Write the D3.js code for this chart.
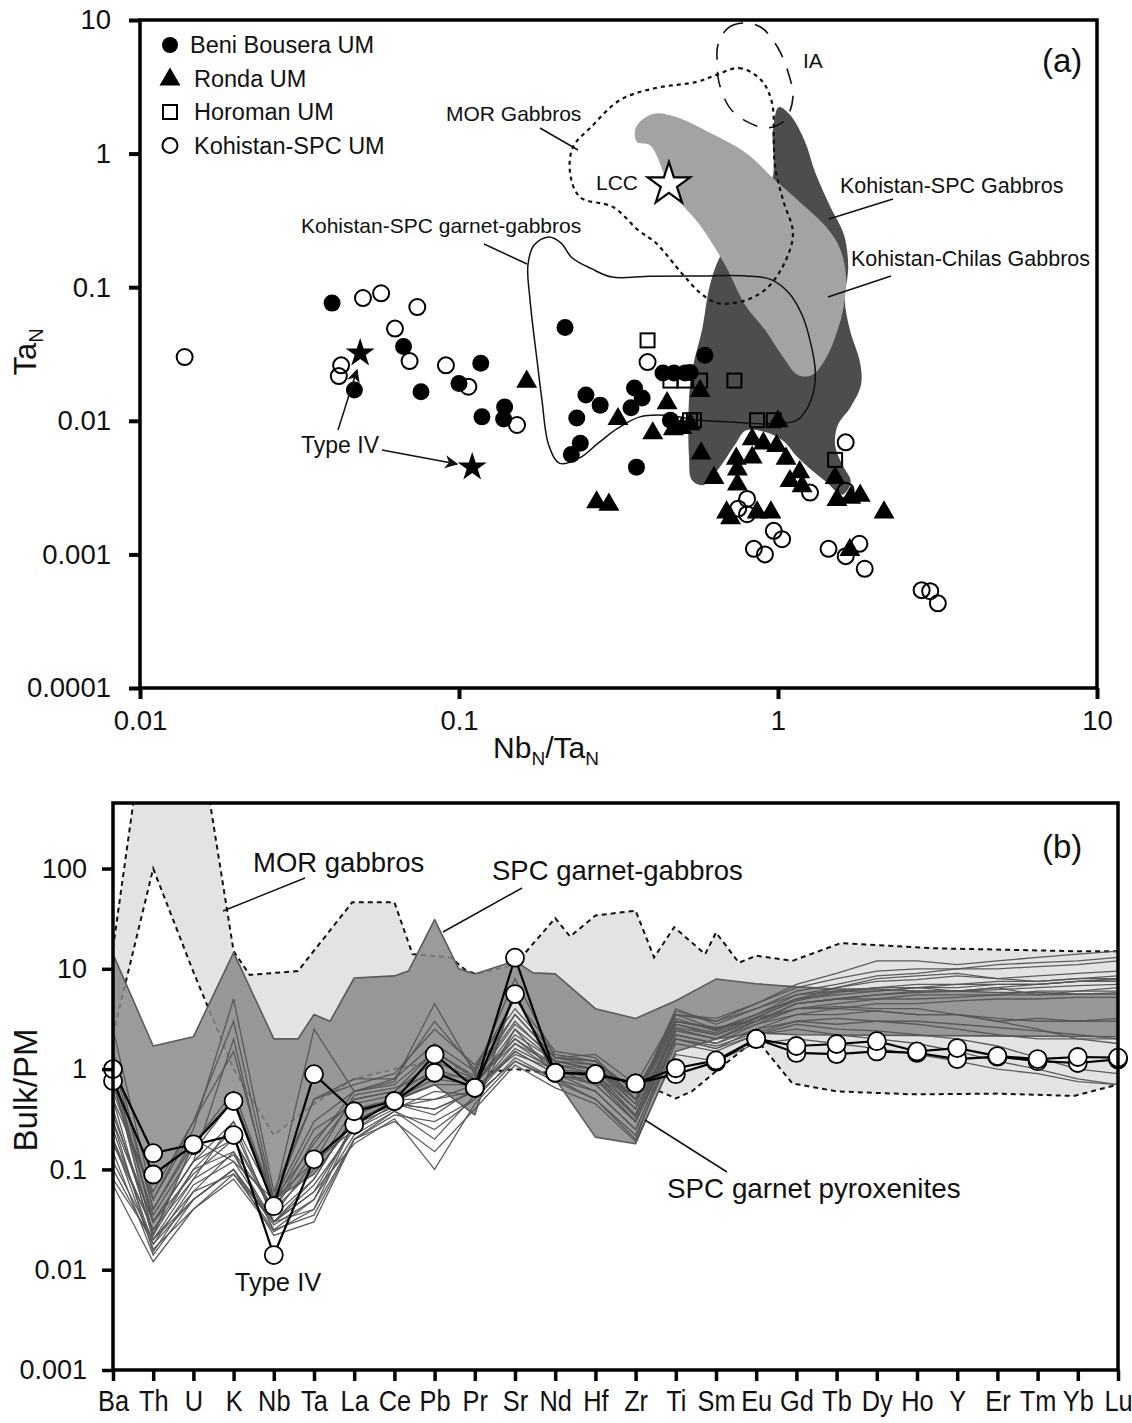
<!DOCTYPE html>
<html>
<head>
<meta charset="utf-8">
<script src="https://cdnjs.cloudflare.com/ajax/libs/d3/7.8.5/d3.min.js"></script>
<style>
body{margin:0;background:#fff;}
svg{display:block;font-family:"Liberation Sans",Arial,sans-serif;}
</style>
</head>
<body>
<div id="chart"></div>
<script>
// ---------- panel (a) data : [NbN/TaN, TaN] ----------
var beniBousera = [[0.040,0.076],[0.047,0.017],[0.067,0.036],[0.076,0.0165],[0.10,0.019],[0.117,0.027],
  [0.118,0.0107],[0.139,0.0127],[0.138,0.0103],[0.215,0.050],[0.25,0.0156],[0.277,0.0131],[0.355,0.0176],
  [0.375,0.0148],[0.346,0.0125],[0.234,0.0105],[0.24,0.0068],[0.225,0.0056],[0.36,0.0045],[0.46,0.0101],
  [0.59,0.031],[0.436,0.0228],[0.472,0.0228],[0.511,0.0228],[0.53,0.023]];
var ronda = [[0.163,0.020],[0.315,0.0105],[0.449,0.0138],[0.57,0.017],[0.405,0.0082],[0.47,0.0088],[0.50,0.009],
  [0.53,0.0096],[0.574,0.0058],[0.63,0.0038],[0.74,0.0053],[0.746,0.0044],[0.746,0.0034],[0.83,0.0074],
  [0.83,0.0054],[0.90,0.0069],[1.0,0.0101],[0.99,0.0066],[1.06,0.0053],[1.09,0.0036],[1.17,0.0042],
  [1.19,0.0033],[1.51,0.0038],[1.53,0.0026],[1.69,0.0027],[1.81,0.0028],[2.15,0.0021],[0.27,0.0025],
  [0.295,0.0024],[0.69,0.0021],[0.71,0.0019],[0.86,0.0021],[0.95,0.0021],[1.68,0.0011]];
var horoman = [[0.39,0.040],[0.46,0.020],[0.51,0.020],[0.57,0.020],[0.73,0.020],[0.53,0.0101],[0.545,0.0101],
  [0.86,0.0101],[0.97,0.0101],[1.51,0.0051]];
var kohistanUM = [[0.0138,0.030],[0.0427,0.026],[0.042,0.0216],[0.050,0.083],[0.057,0.090],[0.074,0.071],
  [0.063,0.049],[0.070,0.028],[0.091,0.026],[0.107,0.018],[0.152,0.0093],[0.39,0.0275],[1.63,0.0069],
  [1.26,0.0029],[0.80,0.0026],[0.75,0.0022],[0.80,0.0020],[1.63,0.0030],[0.97,0.0015],[1.03,0.0013],
  [0.84,0.0011],[0.91,0.0010],[1.44,0.0011],[1.63,0.00097],[1.80,0.0012],[1.87,0.00078],[2.82,0.00054],
  [3.0,0.00053],[3.17,0.00043]];
var typeIVa = [[0.049,0.032],[0.11,0.0045]];
var lcc = [[0.455,0.61]];

// fields in panel (a)
var spcGabbroField = [[1.007,2.23],[1.09,1.95],[1.21,1.26],[1.31,0.716],[1.46,0.398],[1.61,0.246],[1.66,0.142],
  [1.62,0.080],[1.68,0.048],[1.81,0.027],[1.82,0.0185],[1.69,0.0127],[1.54,0.0093],[1.51,0.0066],[1.59,0.0047],
  [1.69,0.0035],[1.59,0.0028],[1.415,0.0035],[1.27,0.0043],[1.147,0.0054],[1.037,0.0071],[0.917,0.0082],
  [0.794,0.0085],[0.738,0.0068],[0.648,0.0043],[0.582,0.0033],[0.537,0.0036],[0.526,0.0054],[0.526,0.0143],
  [0.541,0.0253],[0.578,0.048],[0.612,0.104],[0.667,0.18],[0.817,0.347],[0.958,0.634],[0.964,1.5]];
var chilasField = [[0.359,1.58],[0.4055,1.98],[0.479,1.88],[0.612,1.43],[0.794,1.01],[0.979,0.634],[1.17,0.435],
  [1.415,0.283],[1.56,0.197],[1.63,0.128],[1.61,0.074],[1.52,0.044],[1.415,0.0295],[1.28,0.022],[1.155,0.022],
  [1.037,0.030],[0.91,0.048],[0.788,0.074],[0.682,0.147],[0.569,0.292],[0.466,0.516],[0.397,1.156],[0.361,1.22]];
var morField = [[0.640,3.87],[0.755,4.37],[0.885,3.56],[0.958,2.39],[0.97,1.3],[0.979,0.794],[1.037,0.45],
  [1.114,0.255],[1.059,0.16],[0.93,0.100],[0.794,0.080],[0.648,0.076],[0.569,0.091],[0.498,0.128],[0.4145,0.214],
  [0.364,0.268],[0.304,0.398],[0.2395,0.473],[0.223,0.716],[0.2277,1.12],[0.2594,1.58],[0.32,2.52],[0.4145,3.1],
  [0.553,3.43]];
var iaField = [[0.648,6.5],[0.697,8.71],[0.788,9.5],[0.891,8.71],[1.0,6.17],[1.075,4.08],[1.114,2.66],[1.052,1.785],
  [0.924,1.555],[0.805,1.72],[0.707,2.19],[0.653,3.43],[0.644,5.0]];
var garnetGabbroField = [[0.172,0.207],[0.191,0.238],[0.209,0.214],[0.226,0.166],[0.261,0.137],[0.302,0.119],
  [0.397,0.121],[0.569,0.1215],[0.794,0.1215],[0.944,0.115],[1.075,0.092],[1.19,0.062],[1.26,0.040],[1.31,0.0228],
  [1.27,0.0143],[1.147,0.0101],[0.944,0.0095],[0.707,0.0098],[0.569,0.0101],[0.4425,0.011],[0.369,0.0107],
  [0.315,0.0088],[0.273,0.0068],[0.2395,0.0053],[0.207,0.0048],[0.191,0.0066],[0.182,0.0143],[0.1756,0.0285],
  [0.167,0.080],[0.1645,0.147]];

var xTicksA = [0.01, 0.1, 1, 10];
var yTicksA = [10, 1, 0.1, 0.01, 0.001, 0.0001];
var legendA = ["Beni Bousera UM", "Ronda UM", "Horoman UM", "Kohistan-SPC UM"];

// ---------- panel (b) data ----------
var elements = ["Ba","Th","U","K","Nb","Ta","La","Ce","Pb","Pr","Sr","Nd","Hf","Zr","Ti","Sm","Eu","Gd","Tb","Dy","Ho","Y","Er","Tm","Yb","Lu"];
var yTicksB = [100, 10, 1, 0.1, 0.01, 0.001];
// envelopes: [element position, Bulk/PM]
var morUpper = [[0,16],[1,12000],[2,5000],[3,15],[3.4,8.7],[4.6,9.5],[5.95,46],[7,46],[7.45,14],[8.4,13],[8.8,9.5],
  [9.05,8.9],[10,11],[11,32],[11.37,21],[12,34],[13,38],[13.46,13],[13.96,26],[14.73,14],[15,23],[15.57,11.5],
  [16,13.5],[16.9,12],[18.1,18],[20.5,16],[23.9,15],[25,15]];
var morLower = [[0,2.2],[1,100],[2,9.3],[3,1.0],[4,0.22],[5,0.45],[6,0.8],[7,1.0],[8,1.2],[9,0.9],[10,1.0],[11,0.9],
  [12,0.7],[13,0.65],[13.6,0.6],[14,0.51],[14.4,0.6],[15,0.95],[16,2.0],[16.9,0.72],[18,0.6],[19.9,0.56],[22,0.57],
  [23.9,0.54],[25,0.7]];
var gabbroUpper = [[0,14],[1,1.7],[2,2.1],[3,14.5],[4,2.0],[4.6,2.0],[5,3.5],[5.4,3.0],[6,8.1],[7,8.5],[7.35,9.5],
  [8,31],[8.6,10],[9,8.9],[10,12],[10.45,9.1],[11,8.9],[12,4.0],[13,3.2],[14,4.8],[15,7.9],[16,7.1],[17,6.6],
  [18,6.3],[19,6.3],[20,6.0],[21,6.0],[22,5.8],[23,5.8],[24,5.6],[25,5.6]];
var gabbroLower = [[0,0.8],[1,0.022],[2,0.18],[3,0.5],[4,0.05],[5,0.09],[6,0.3],[7,0.48],[8,0.7],[9,0.35],[10,6],
  [11,0.8],[12,0.21],[13,0.18],[14,1.5],[15,2.0],[16,2.3],[17,2.2],[25,2.1]];

// SPC garnet pyroxenites (one array per sample, Ba..Lu)
var pyroxenites = [
  [0.9,0.03,0.12,2.0,0.04,0.15,0.5,0.6,1.5,0.8,3.5,1.3,1.2,0.6,3.0,2.5,3.5,5.5,6.5,7.5,7.8,8.5,8.0,8.5,9.0,9.5],
  [0.5,0.02,0.08,0.3,0.03,0.08,0.35,0.5,0.8,0.7,2.0,1.0,0.9,0.4,2.5,2.0,3.0,4.5,5.0,5.5,5.8,6.0,6.2,6.5,6.8,7.0],
  [0.3,0.015,0.06,0.15,0.025,0.05,0.3,0.45,0.4,0.6,1.5,0.9,0.7,0.3,2.2,1.8,2.8,4.0,4.5,5.0,5.0,5.2,5.5,5.5,5.6,5.8],
  [1.5,0.04,0.2,0.12,0.05,0.5,0.8,0.8,3.0,1.0,5.0,1.5,1.3,0.5,4.0,2.8,4.0,6.0,7.0,8.5,9.0,10,10,10.5,11,12],
  [0.2,0.025,0.1,0.25,0.035,0.12,0.25,0.4,0.6,0.55,1.2,0.8,0.6,0.25,2.0,1.6,2.5,3.5,4.0,4.5,4.5,4.8,5.0,5.0,5.2,5.2],
  [0.12,0.02,0.05,0.1,0.03,0.04,0.2,0.35,0.3,0.5,2.5,0.85,0.8,0.35,2.8,2.2,3.2,5.0,6.0,6.5,7.0,7.0,7.5,7.5,8.0,8.0],
  [0.7,0.035,0.15,0.5,0.045,0.25,0.45,0.55,1.0,0.75,1.8,1.1,1.0,0.45,3.2,2.4,3.5,5.0,6.5,8.0,8.5,9.0,8.0,7.5,8.0,8.5],
  [0.35,0.03,0.09,0.2,0.04,0.1,0.4,0.5,0.7,0.7,2.2,1.2,1.1,0.5,3.8,3.0,4.0,5.5,6.0,6.0,6.5,6.0,6.5,5.5,6.0,6.5],
  [0.25,0.018,0.07,0.12,0.03,0.06,0.28,0.42,0.5,0.6,1.6,1.0,0.7,0.3,2.5,2.0,2.8,3.5,3.5,3.8,3.5,3.5,3.2,3.0,3.0,3.2],
  [0.15,0.014,0.05,0.1,0.028,0.05,0.22,0.38,0.25,0.5,1.3,0.8,0.5,0.2,2.2,1.8,2.5,3.0,3.2,3.0,2.8,2.5,2.2,2.0,2.0,2.0],
  [0.6,0.05,0.25,5.0,0.06,0.5,0.7,0.9,2.5,1.1,4.0,1.4,1.2,0.6,3.0,2.6,3.0,4.0,4.2,4.0,4.0,3.5,3.0,2.5,2.0,1.8],
  [0.4,0.022,0.1,0.15,0.04,0.2,0.5,0.6,1.2,0.8,2.8,1.3,1.4,0.7,3.5,3.2,4.5,6.5,8.0,9.5,10,10,11,11.5,12,13],
  [0.08,0.02,0.06,0.09,0.03,0.06,0.18,0.32,0.1,0.45,1.2,0.75,0.5,0.22,1.8,1.5,2.2,2.8,2.5,2.4,2.2,2.0,1.7,1.3,1.0,0.9],
  [1.0,0.03,0.12,0.3,0.05,0.12,0.55,0.65,0.9,0.8,2.0,1.1,0.9,0.35,2.6,2.2,3.0,4.5,5.0,5.5,6.0,6.0,6.5,7.0,7.5,7.5],
  [0.5,0.06,0.3,1.5,0.05,2.5,0.6,0.8,1.8,0.95,3.5,1.3,1.1,0.45,3.5,2.5,3.2,4.0,4.0,3.8,3.5,3.5,3.0,3.2,3.0,3.0],
  [0.2,0.016,0.04,0.08,0.024,0.04,0.3,0.45,0.35,0.65,1.4,1.0,0.8,0.3,2.0,1.6,2.2,2.5,2.2,2.0,1.8,1.5,1.2,1.0,0.8,0.7],
  [0.3,0.03,0.12,0.2,0.035,0.08,0.35,0.5,0.5,0.7,2.5,1.2,1.0,0.4,3.0,2.5,3.5,5.0,5.5,6.0,6.5,6.5,7.0,7.0,7.5,8.0],
  [0.18,0.025,0.08,0.14,0.03,0.07,0.25,0.45,0.4,0.6,1.8,0.95,0.85,0.33,2.4,2.0,3.0,4.5,5.0,5.0,5.5,5.5,5.5,6.0,6.0,6.0],
  [1.2,0.04,0.18,0.6,0.05,0.18,0.6,0.7,1.5,0.85,3.0,1.2,1.0,0.5,2.8,2.3,3.3,4.8,5.8,6.5,6.5,7.0,7.0,7.0,7.5,7.8],
  [0.1,0.018,0.05,0.1,0.022,0.03,0.2,0.38,0.2,0.55,1.5,0.9,0.6,0.25,2.0,1.7,2.3,3.0,2.8,3.0,3.0,2.8,2.6,2.4,2.2,2.0],
  [2.5,0.05,0.3,3.0,0.05,0.3,0.6,0.75,4.5,0.9,8.0,1.3,1.2,0.5,3.5,3.0,4.5,7.0,9.0,12,12,11,12,13,14,15],
  [0.07,0.012,0.04,0.09,0.025,0.035,0.2,0.3,0.15,0.4,1.1,0.65,0.45,0.19,1.4,1.2,1.8,2.0,1.8,1.6,1.4,1.2,1.0,0.9,0.75,0.7]
];
var typeIVb1 = [1.0,0.145,0.178,0.48,0.043,0.89,0.38,0.48,1.4,0.65,12.9,0.92,0.89,0.72,1.02,1.22,2.0,1.7,1.78,1.9,1.5,1.62,1.35,1.26,1.32,1.3];
var typeIVb2 = [0.76,0.089,0.175,0.22,0.014,0.126,0.28,0.48,0.92,0.65,5.6,0.92,0.89,0.72,0.89,1.18,2.0,1.45,1.41,1.5,1.45,1.26,1.33,1.2,1.15,1.25];

// ---------- drawing ----------
var W = 1132, H = 1423;
var svg = d3.select("#chart").append("svg").attr("width", W).attr("height", H);

// ===== panel (a) =====
var xA = d3.scaleLog().domain([0.01, 10]).range([140, 1097]);
var yA = d3.scaleLog().domain([0.0001, 10]).range([688, 20]);
var gA = svg.append("g");

var fieldPath = d3.line().x(function(d){ return xA(d[0]); }).y(function(d){ return yA(d[1]); })
  .curve(d3.curveCatmullRomClosed.alpha(0.5));

gA.append("path").attr("d", fieldPath(spcGabbroField)).attr("fill", "#4d4d4d");
gA.append("path").attr("d", fieldPath(chilasField)).attr("fill", "#a3a3a3");
gA.append("path").attr("d", fieldPath(garnetGabbroField)).attr("fill", "none").attr("stroke", "#111").attr("stroke-width", 1.5);
gA.append("path").attr("d", fieldPath(morField)).attr("fill", "none").attr("stroke", "#111")
  .attr("stroke-width", 2.2).attr("stroke-dasharray", "4,4");
gA.append("path").attr("d", fieldPath(iaField)).attr("fill", "none").attr("stroke", "#111")
  .attr("stroke-width", 1.6).attr("stroke-dasharray", "16,12");

// points
gA.selectAll(".bb").data(beniBousera).enter().append("circle")
  .attr("cx", function(d){ return xA(d[0]); }).attr("cy", function(d){ return yA(d[1]); })
  .attr("r", 8.5).attr("fill", "#000");
gA.selectAll(".ho").data(horoman).enter().append("rect")
  .attr("x", function(d){ return xA(d[0]) - 7; }).attr("y", function(d){ return yA(d[1]) - 7; })
  .attr("width", 14).attr("height", 14).attr("fill", "none").attr("stroke", "#000").attr("stroke-width", 2);
var tri = d3.symbol().type(d3.symbolTriangle).size(190);
gA.selectAll(".ro").data(ronda).enter().append("path")
  .attr("d", tri).attr("transform", function(d){ return "translate(" + xA(d[0]) + "," + (yA(d[1]) + 1) + ")"; })
  .attr("fill", "#000");
gA.selectAll(".ko").data(kohistanUM).enter().append("circle")
  .attr("cx", function(d){ return xA(d[0]); }).attr("cy", function(d){ return yA(d[1]); })
  .attr("r", 8).attr("fill", "none").attr("stroke", "#000").attr("stroke-width", 2);
var star = d3.symbol().type(d3.symbolStar);
gA.selectAll(".t4").data(typeIVa).enter().append("path")
  .attr("d", star.size(260)).attr("transform", function(d){ return "translate(" + xA(d[0]) + "," + yA(d[1]) + ")"; })
  .attr("fill", "#000");
gA.selectAll(".lcc").data(lcc).enter().append("path")
  .attr("d", d3.symbol().type(d3.symbolStar).size(560)).attr("transform", function(d){ return "translate(" + xA(d[0]) + "," + (yA(d[1]) + 2) + ")"; })
  .attr("fill", "#fff").attr("stroke", "#000").attr("stroke-width", 2.2);

// annotations (a)
function txt(g, x, y, s, size, anchor){
  return g.append("text").attr("x", x).attr("y", y).attr("font-size", size)
    .attr("text-anchor", anchor || "start").attr("fill", "#111").text(s);
}
function seg(g, x1, y1, x2, y2, w){
  return g.append("line").attr("x1", x1).attr("y1", y1).attr("x2", x2).attr("y2", y2)
    .attr("stroke", "#111").attr("stroke-width", w || 1.5);
}
txt(gA, 446, 121, "MOR Gabbros", 21);
seg(gA, 540, 128, 578, 150);
txt(gA, 638, 190, "LCC", 21, "end");
txt(gA, 803, 68, "IA", 21);
txt(gA, 840, 193, "Kohistan-SPC Gabbros", 21.5);
seg(gA, 893, 199, 829, 219);
txt(gA, 851, 266, "Kohistan-Chilas Gabbros", 21.5);
seg(gA, 891, 276, 828, 297);
txt(gA, 301, 233, "Kohistan-SPC garnet-gabbros", 21);
seg(gA, 484, 244, 527, 264);
txt(gA, 301, 453, "Type IV", 23);
svg.append("defs").append("marker").attr("id", "arr").attr("viewBox", "0 0 10 10")
  .attr("refX", 9).attr("refY", 5).attr("markerWidth", 9).attr("markerHeight", 9).attr("orient", "auto")
  .append("path").attr("d", "M0,0 L10,5 L0,10 L3,5 Z").attr("fill", "#111");
seg(gA, 338, 430, 357, 370).attr("marker-end", "url(#arr)");
seg(gA, 382, 450, 457, 464).attr("marker-end", "url(#arr)");
txt(gA, 1042, 72, "(a)", 33);

// legend
var lg = gA.append("g");
legendA.forEach(function(name, i){
  var ly = 45 + i * 33.5;
  var row = lg.append("g");
  if (i === 0) row.append("circle").attr("cx", 170).attr("cy", ly).attr("r", 8).attr("fill", "#000");
  if (i === 1) row.append("path").attr("d", tri).attr("transform", "translate(170," + (ly + 1) + ")").attr("fill", "#000");
  if (i === 2) row.append("rect").attr("x", 163).attr("y", ly - 7).attr("width", 14).attr("height", 14)
    .attr("fill", "none").attr("stroke", "#000").attr("stroke-width", 2);
  if (i === 3) row.append("circle").attr("cx", 170).attr("cy", ly).attr("r", 7.5).attr("fill", "none")
    .attr("stroke", "#000").attr("stroke-width", 2);
  txt(row, i === 0 ? 190 : 194, ly + 8, name, 23.5);
});

// axes (a)
var axYA = gA.append("g").attr("transform", "translate(140,0)")
  .call(d3.axisLeft(yA).tickValues(yTicksA).tickFormat(function(d){ return String(d); }).tickSize(11).tickPadding(18));
var axXA = gA.append("g").attr("transform", "translate(0,688)")
  .call(d3.axisBottom(xA).tickValues(xTicksA).tickFormat(function(d){ return String(d); }).tickSize(11).tickPadding(11));
[axYA, axXA].forEach(function(a){
  a.select(".domain").remove();
  a.selectAll("line").attr("stroke", "#000").attr("stroke-width", 4);
  a.selectAll("text").attr("font-size", 27.5).attr("fill", "#111").attr("font-family", "Liberation Sans, Arial, sans-serif");
});
gA.append("rect").attr("x", 140).attr("y", 20).attr("width", 957).attr("height", 668)
  .attr("fill", "none").attr("stroke", "#000").attr("stroke-width", 3.5);

var tA = gA.append("text").attr("transform", "translate(36,352) rotate(-90)").attr("text-anchor", "middle")
  .attr("font-size", 31).attr("fill", "#111");
tA.append("tspan").text("Ta");
tA.append("tspan").attr("font-size", 20).attr("dy", 7).text("N");
var tB = gA.append("text").attr("x", 546).attr("y", 758).attr("text-anchor", "middle")
  .attr("font-size", 30).attr("fill", "#111");
tB.append("tspan").text("Nb");
tB.append("tspan").attr("font-size", 19).attr("dy", 7).text("N");
tB.append("tspan").attr("dy", -7).text("/Ta");
tB.append("tspan").attr("font-size", 19).attr("dy", 7).text("N");

// ===== panel (b) =====
var xB = d3.scalePoint().domain(elements).range([113, 1118]);
var xPos = d3.scaleLinear().domain([0, elements.length - 1]).range([113, 1118]);
var yB = d3.scaleLog().domain([0.001, 450]).range([1370, 803]);
var gB = svg.append("g");
gB.append("clipPath").attr("id", "clipB").append("rect").attr("x", 113).attr("y", 803).attr("width", 1005).attr("height", 567);
var plotB = gB.append("g").attr("clip-path", "url(#clipB)");

var envLine = d3.line().x(function(d){ return xPos(d[0]); }).y(function(d){ return yB(d[1]); });
var morPoly = morUpper.concat(morLower.slice().reverse());
plotB.append("path").attr("d", envLine(morPoly) + "Z").attr("fill", "#e3e3e3");
plotB.append("path").attr("d", envLine(morUpper)).attr("fill", "none").attr("stroke", "#111")
  .attr("stroke-width", 2).attr("stroke-dasharray", "5,4");
plotB.append("path").attr("d", envLine(morLower)).attr("fill", "none").attr("stroke", "#111")
  .attr("stroke-width", 2).attr("stroke-dasharray", "5,4");
var gabPoly = gabbroUpper.concat(gabbroLower.slice().reverse());
plotB.append("path").attr("d", envLine(gabPoly) + "Z").attr("fill", "#8a8a8a").attr("fill-opacity", 0.85)
  .attr("stroke", "#5a5a5a").attr("stroke-width", 1.6).attr("stroke-linejoin", "round");

var serLine = d3.line().x(function(d, i){ return xB(elements[i]); }).y(function(d){ return yB(d); });
plotB.selectAll(".px").data(pyroxenites).enter().append("path")
  .attr("d", serLine).attr("fill", "none").attr("stroke", "#555").attr("stroke-width", 1.3).attr("stroke-opacity", 0.95);

[typeIVb2, typeIVb1].forEach(function(s){
  plotB.append("path").attr("d", serLine(s)).attr("fill", "none").attr("stroke", "#000").attr("stroke-width", 2.2);
});
[typeIVb2, typeIVb1].forEach(function(s){
  gB.selectAll(null).data(s).enter().append("circle")
    .attr("cx", function(d, i){ return xB(elements[i]); }).attr("cy", function(d){ return yB(d); })
    .attr("r", 9).attr("fill", "#fff").attr("stroke", "#000").attr("stroke-width", 1.8);
});

// annotations (b)
txt(gB, 253, 872, "MOR gabbros", 27.5);
seg(gB, 305, 878, 223, 911);
txt(gB, 492, 880, "SPC garnet-gabbros", 27.5);
seg(gB, 522, 888, 443, 932);
txt(gB, 1042, 858, "(b)", 33);
txt(gB, 667, 1198, "SPC garnet pyroxenites", 27.8);
seg(gB, 727, 1172, 645, 1120);
txt(gB, 278, 1291, "Type IV", 25.5, "middle");

// axes (b)
var axYB = gB.append("g").attr("transform", "translate(113,0)")
  .call(d3.axisLeft(yB).tickValues(yTicksB).tickFormat(function(d){ return String(d); }).tickSize(11).tickPadding(15));
var axXB = gB.append("g").attr("transform", "translate(0,1370)")
  .call(d3.axisBottom(xB).tickSize(11).tickPadding(9));
[axYB, axXB].forEach(function(a){
  a.select(".domain").remove();
  a.selectAll("line").attr("stroke", "#000").attr("stroke-width", 3.5);
  a.selectAll("text").attr("font-size", 27).attr("fill", "#111").attr("font-family", "Liberation Sans, Arial, sans-serif");
});
axXB.selectAll("text").attr("font-size", 29.5).attr("transform", "scale(0.86,1)");
gB.append("rect").attr("x", 113).attr("y", 803).attr("width", 1005).attr("height", 567)
  .attr("fill", "none").attr("stroke", "#000").attr("stroke-width", 3.5);
gB.append("text").attr("transform", "translate(37,1090) rotate(-90)").attr("text-anchor", "middle")
  .attr("font-size", 33).attr("fill", "#111").text("Bulk/PM");
</script>
</body>
</html>
